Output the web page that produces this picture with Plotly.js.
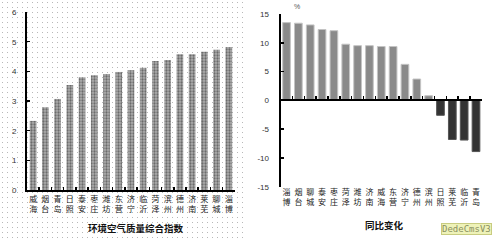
<!DOCTYPE html>
<html><head><meta charset="utf-8">
<script src="https://cdn.plot.ly/plotly-3.0.1.min.js"></script>
<style>html,body{margin:0;padding:0;background:#fff;}#chart{width:502px;height:241px;}</style>
</head><body><div id="chart"></div>
<script>
// Left chart: 环境空气质量综合指数
var leftCities = ["威海","烟台","青岛","日照","泰安","枣庄","潍坊","东营","济宁","临沂","菏泽","滨州","德州","济南","莱芜","聊城","淄博"];
var leftValues = [2.33,2.79,3.07,3.54,3.80,3.87,3.91,3.98,4.04,4.12,4.35,4.38,4.58,4.58,4.66,4.73,4.82];
var leftTickVals = [0,1,2,3,4,5,6];

// Right chart: 同比变化 (%)
var rightCities = ["淄博","烟台","聊城","泰安","枣庄","菏泽","潍坊","济南","威海","东营","济宁","德州","滨州","日照","莱芜","临沂","青岛"];
var rightValues = [13.5,13.4,13.1,12.3,12.1,9.75,9.5,9.5,9.35,9.35,6.25,3.7,0.8,-2.6,-6.8,-6.9,-8.9];
var rightTickVals = [-15,-10,-5,0,5,10,15];
var rightTickText = ["-15","-10","-5","0","5","10","15"];

var titleLeft = "环境空气质量综合指数";
var titleRight = "同比变化";
var unitRight = "%";

function vertical(s){ return s.split("").join("<br>"); }

var cjk = "Noto Sans CJK SC, sans-serif";
var num = "Liberation Sans, Arial, sans-serif";

// dotted background image for left panel
var svg = '<svg xmlns="http://www.w3.org/2000/svg" width="245" height="241"><defs><pattern id="p" width="5" height="5" patternUnits="userSpaceOnUse"><rect x="2" y="2" width="1" height="1" fill="#b8b8b8"/></pattern></defs><rect width="245" height="241" fill="url(#p)"/></svg>';
var bgImg = "data:image/svg+xml;base64," + btoa(svg);

var traces = [
  {type:"bar", x:leftCities, y:leftValues, xaxis:"x", yaxis:"y", width:0.55,
   marker:{color:"#9a9a9a", line:{width:0},
     pattern:{shape:".", fgcolor:"#6a6a6a", bgcolor:"#b0b0b0", size:3, solidity:0.45}},
   hoverinfo:"skip"},
  {type:"bar", x:rightCities, y:rightValues, xaxis:"x2", yaxis:"y2", width:0.65,
   marker:{color:rightValues.map(function(v){return v>=0?"#8a8a8a":"#333333";}),
           line:{color:rightValues.map(function(v){return v>=0?"#c4c4c4":"#555555";}), width:1}},
   hoverinfo:"skip"}
];

var yL = [0.2116, 0.950];
var yR = [0.2253, 0.942];

var layout = {
  width:502, height:241,
  margin:{l:0,r:0,t:0,b:0},
  paper_bgcolor:"#ffffff", plot_bgcolor:"rgba(0,0,0,0)",
  showlegend:false,
  font:{family:num, size:8, color:"#333"},
  images:[{source:bgImg, xref:"paper", yref:"paper", x:0, y:1, sizex:245/502, sizey:1,
           sizing:"stretch", xanchor:"left", yanchor:"top", layer:"below"}],
  xaxis:{domain:[0.0538,0.468], anchor:"y", type:"category",
    tickvals:leftCities, ticktext:leftCities.map(vertical), tickangle:0,
    showline:true, linecolor:"#000", linewidth:2, ticks:"inside", tickson:"boundaries",
    ticklen:3, tickwidth:1.5, tickcolor:"#000", showgrid:false,
    tickfont:{family:cjk, size:8, color:"#222"}, ticklabelstandoff:0},
  yaxis:{domain:yL, anchor:"x", range:[0,6], tickvals:leftTickVals,
    showline:true, linecolor:"#000", linewidth:2, ticks:"inside", ticklen:3, tickwidth:1.5,
    tickcolor:"#000", showgrid:false, zeroline:false,
    tickfont:{family:num, size:8, color:"#333"}, ticklabelstandoff:7},
  xaxis2:{domain:[0.559,0.960], anchor:"free", position:(yR[0]+yR[1])/2, type:"category",
    tickvals:rightCities, ticktext:rightCities.map(vertical), tickangle:0,
    showline:true, linecolor:"#000", linewidth:2, ticks:"inside", tickson:"boundaries",
    ticklen:3, tickwidth:1.5, tickcolor:"#000", showgrid:false,
    tickfont:{family:cjk, size:8, color:"#222"}, ticklabelstandoff:84},
  yaxis2:{domain:yR, anchor:"x2", range:[-15,15], tickvals:rightTickVals, ticktext:rightTickText,
    showline:true, linecolor:"#000", linewidth:2, ticks:"inside", ticklen:3, tickwidth:1.5,
    tickcolor:"#000", showgrid:false, zeroline:false,
    tickfont:{family:num, size:8, color:"#333"}, ticklabelstandoff:8},
  annotations:[
    {text:"<b>"+titleLeft+"</b>", xref:"paper", yref:"paper", x:0.271, y:0.056,
     xanchor:"center", yanchor:"middle",
     showarrow:false, font:{family:cjk, size:9.5, color:"#111"}},
    {text:"<b>"+titleRight+"</b>", xref:"paper", yref:"paper", x:0.765, y:0.066,
     xanchor:"center", yanchor:"middle",
     showarrow:false, font:{family:cjk, size:9.5, color:"#111"}},
    {text:unitRight, xref:"paper", yref:"paper", x:0.5916, y:0.975,
     xanchor:"center", yanchor:"middle",
     showarrow:false, font:{family:num, size:7, color:"#555"}},
    {text:"DedeCmsV3", xref:"paper", yref:"paper", x:0.930, y:0.05,
     xanchor:"center", yanchor:"middle",
     showarrow:false, font:{family:"DejaVu Sans Mono, monospace", size:9, color:"#8a9060"},
     bgcolor:"#eef2b8", bordercolor:"#c8cc80", borderwidth:1, borderpad:0}
  ]
};

Plotly.newPlot("chart", traces, layout, {staticPlot:true, displayModeBar:false});
</script>
</body></html>
